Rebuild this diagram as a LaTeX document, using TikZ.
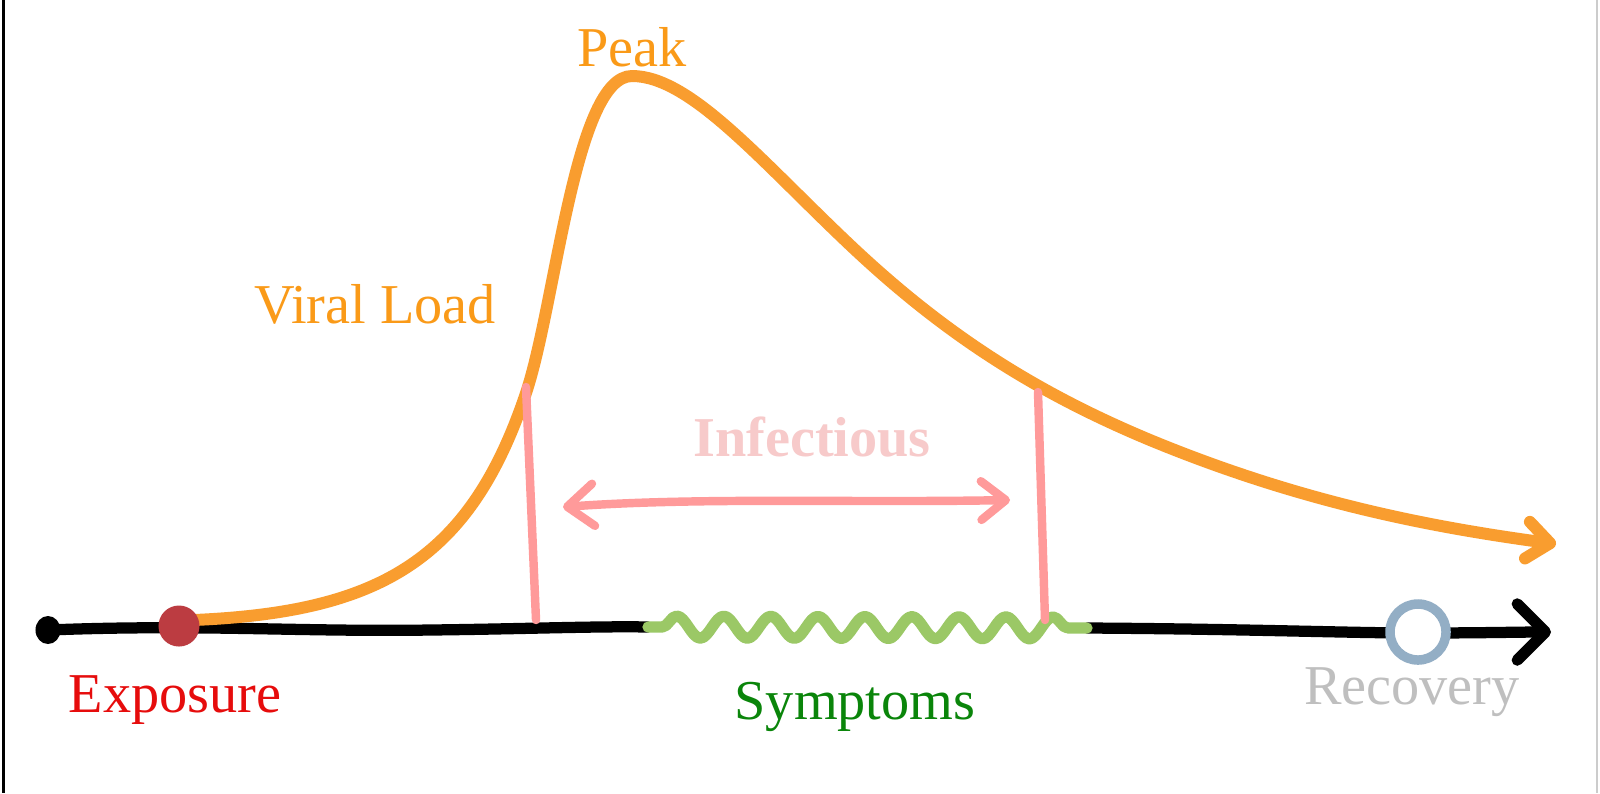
\documentclass[tikz,border=0pt]{standalone}
\usepackage{fontspec}
\setmainfont{Liberation Serif}
\usetikzlibrary{arrows.meta,decorations.pathmorphing,shapes.geometric}
\definecolor{vorange}{HTML}{F99D2F}
\definecolor{torange}{HTML}{FA9A18}
\definecolor{ipink}{HTML}{FF9A9A}
\definecolor{tpink}{HTML}{F7CACA}
\definecolor{sgreen}{HTML}{9BC866}
\definecolor{tgreen}{HTML}{0A850A}
\definecolor{expred}{HTML}{BC3C41}
\definecolor{texpred}{HTML}{E60C0C}
\definecolor{recblue}{HTML}{93AEC5}
\definecolor{trecgray}{HTML}{BFBFBF}
\begin{document}
\begin{tikzpicture}[x=0.01cm,y=-0.01cm,
  lbl/.style={font=\fontsize{16}{19}\selectfont, anchor=base, inner sep=0pt},
  hand/.style={line cap=round, line join=round},
  timeline/.style={hand, draw=black, line width=3.2pt},
  loadcurve/.style={hand, draw=vorange, line width=3.4pt},
  infline/.style={hand, draw=ipink, line width=2.4pt},
  symwave/.style={hand, draw=sgreen, line width=3.2pt},
  barbbig/.style={-{Straight Barb[length=8pt,width=16pt,line cap=round,line join=round]}},
  barbmid/.style={-{Straight Barb[length=6.5pt,width=10.5pt,line cap=round,line join=round]}},
  barbpink/.style={{Straight Barb[length=7.5pt,width=12pt,line cap=round,line join=round]}-{Straight Barb[length=7pt,width=11pt,line cap=round,line join=round]}}
]
\useasboundingbox (0,0) rectangle (1600,793);
\fill[white] (0,0) rectangle (1600,793);
% frame edges
\draw[black, line width=0.7pt] (3.5,0) -- (3.5,793);
\draw[gray!40, line width=0.6pt] (1597,0) -- (1597,793);

% key points
\coordinate (tstart) at (48,630);
\coordinate (symA) at (648,627);
\coordinate (symB) at (1087,628);
\coordinate (tend) at (1551,632);
\coordinate (curveStart) at (194,620);
\coordinate (curveEnd) at (1556,544);
\coordinate (infL) at (563,507);
\coordinate (infR) at (1010,500);
\coordinate (pLtop) at (526,387);
\coordinate (pLbot) at (536,620);
\coordinate (pRtop) at (1038,392);
\coordinate (pRbot) at (1045,620);

% timeline
\draw[timeline] (tstart) .. controls (200,624) and (300,632) .. (430,630) .. controls (520,629) and (600,626) .. (symA);
\draw[timeline, barbbig] (symB) .. controls (1250,629) and (1350,633) .. (1418,633) .. controls (1480,633) and (1520,632) .. (tend);

% symptoms wave
\draw[symwave, decorate, decoration={snake, segment length=0.47cm, amplitude=0.11cm, pre length=4pt, post length=4pt}] (symA) -- (symB);

% viral load curve
\draw[loadcurve, barbmid] (curveStart)
  .. controls (380,612) and (470,560) .. (526,393)
  .. controls (556,303) and (575,76) .. (632,76)
  .. controls (690,76) and (760,160) .. (850,245)
  .. controls (940,330) and (1030,390) .. (1150,440)
  .. controls (1300,502) and (1430,527) .. (curveEnd);

% infectious bounds
\draw[infline] (pLtop) -- (pLbot);
\draw[infline] (pRtop) -- (pRbot);
\draw[infline, barbpink] (infL) .. controls (700,497) and (850,503) .. (infR);

% dots
\node[fill=black, ellipse, minimum width=0.25cm, minimum height=0.28cm, inner sep=0pt] (startdot) at (tstart) {};
\node[fill=expred, circle, minimum size=0.41cm, inner sep=0pt] (expdot) at (179,626) {};
\node[draw=recblue, fill=white, circle, line width=2.7pt, minimum size=0.56cm, inner sep=0pt] (recdot) at (1418,632) {};

% labels
\node[lbl, text=torange] (peak) at (632,66) {Peak};
\node[lbl, text=torange] (viral) at (375,323) {Viral Load};
\node[lbl, text=tpink, font=\fontsize{16}{19}\selectfont\bfseries] (inf) at (812,456) {Infectious};
\node[lbl, text=texpred] (exp) at (175,712) {Exposure};
\node[lbl, text=tgreen] (sym) at (855,719) {Symptoms};
\node[lbl, text=trecgray] (rec) at (1412,704) {Recovery};
\end{tikzpicture}
\end{document}
